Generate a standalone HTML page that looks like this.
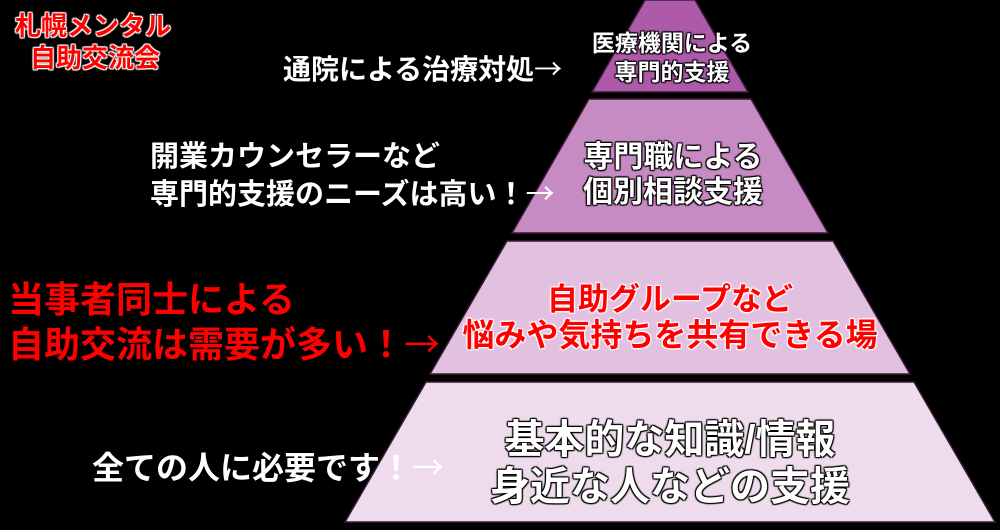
<!DOCTYPE html>
<html><head><meta charset="utf-8"><style>
html,body{margin:0;padding:0;background:#000;}
#c{position:relative;width:1000px;height:530px;overflow:hidden;background:#000;font-family:"Liberation Sans","Noto Sans CJK JP",sans-serif;font-weight:bold;}
.t{position:absolute;white-space:nowrap;line-height:1;}
.a{font-family:"Noto Sans CJK JP",sans-serif;font-weight:normal;}
.w{color:#fff;}
.o{color:#fff;text-shadow:0 0 2px #000,1px 1px 1px #000,-1px -1px 1px #000,1px -1px 1px #000,-1px 1px 1px #000;}
.r{color:#f00;text-shadow:0 0 2px #fff,1px 1px 1px #fff,-1px -1px 1px #fff,1px -1px 1px #fff,-1px 1px 1px #fff;}
.rr{color:#f00;}
.c{text-align:center;width:500px;left:420px;}
</style></head><body><div id="c">
<svg width="1000" height="530" style="position:absolute;left:0;top:0">
<polygon points="645,0 695,0 748,92 592,92" fill="#ad5aa9" stroke="#3a1a38" stroke-width="1.5"/>
<polygon points="589,99 751,99 828,233 512,233" fill="#c78bc3" stroke="#3a1a38" stroke-width="1.5"/>
<polygon points="507,241 833,241 910,374 430,374" fill="#e2c1e0" stroke="#3a1a38" stroke-width="1.5"/>
<polygon points="426,382 914,382 995,522 345,522" fill="#eedcec" stroke="#3a1a38" stroke-width="1.5"/>
</svg>
<div class="t r" style="left:15px;top:13px;font-size:26px;">札幌メンタル</div>
<div class="t r" style="left:30px;top:45px;font-size:26px;">自助交流会</div>

<div class="t w" style="left:283px;top:54px;font-size:28px;">通院による治療対処<span class="a">→</span></div>
<div class="t o c" style="top:32px;font-size:23px;left:422px;">医療機関による</div>
<div class="t o c" style="top:61px;font-size:23px;left:422px;">専門的支援</div>

<div class="t w" style="left:150px;top:143px;font-size:29px;">開業カウンセラーなど</div>
<div class="t w" style="left:150px;top:178px;font-size:29px;">専門的支援のニーズは高い！<span class="a">→</span></div>
<div class="t o c" style="top:143px;font-size:30px;left:423px;">専門職による</div>
<div class="t o c" style="top:178px;font-size:30px;left:423px;">個別相談支援</div>

<div class="t rr" style="left:8px;top:282px;font-size:36px;">当事者同士による</div>
<div class="t rr" style="left:8px;top:324px;font-size:36px;">自助交流は需要が多い！<span class="a">→</span></div>
<div class="t r c" style="top:284px;font-size:31px;">自助グループなど</div>
<div class="t r c" style="top:319px;font-size:32px;">悩みや気持ちを共有できる場</div>

<div class="t w" style="left:92px;top:450px;font-size:32px;">全ての人に必要です！<span class="a">→</span></div>
<div class="t o c" style="top:420px;font-size:40px;">基本的な知識/情報</div>
<div class="t o c" style="top:467px;font-size:40px;">身近な人などの支援</div>
</div></body></html>
